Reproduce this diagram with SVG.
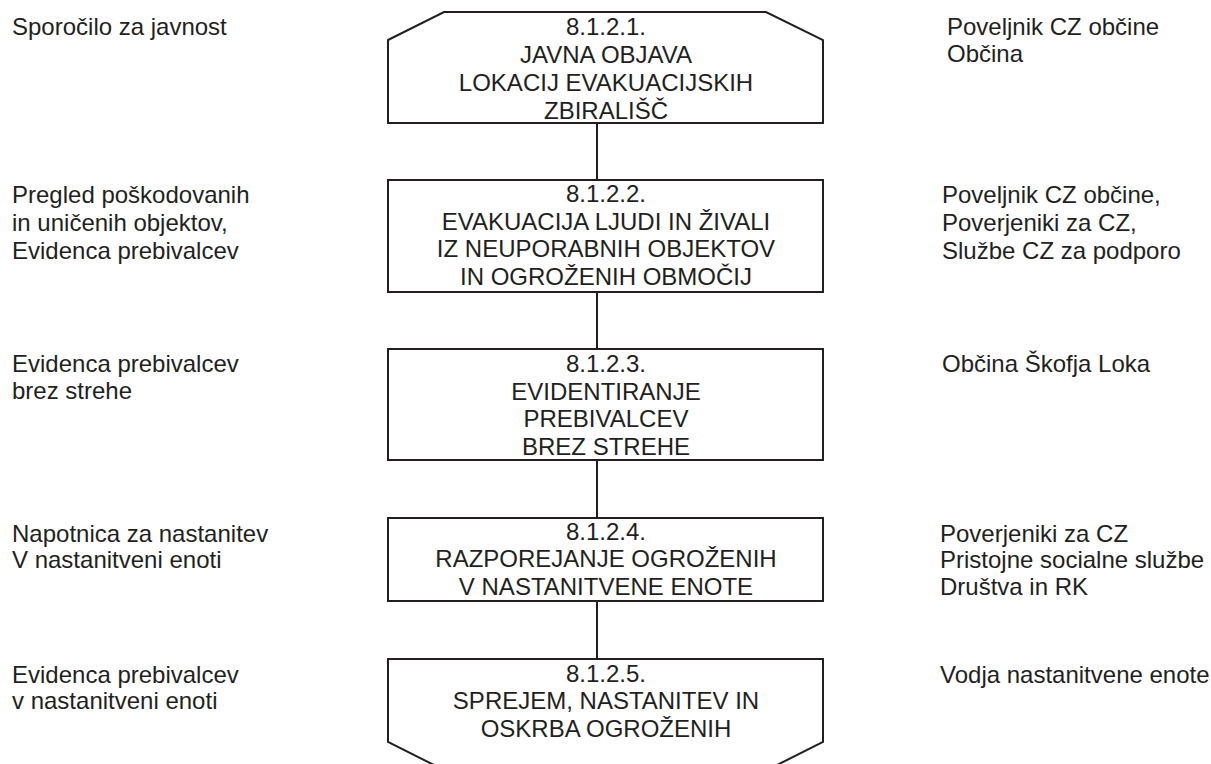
<svg xmlns="http://www.w3.org/2000/svg" width="1211" height="764" viewBox="0 0 1211 764">
<style>
.shape{fill:#fff;stroke:#231f20;stroke-width:2}
.conn{stroke:#231f20;stroke-width:2;fill:none}
.bt{font-family:"Liberation Sans",Arial,sans-serif;font-size:24px;fill:#231f20;text-anchor:middle}
.lt{font-family:"Liberation Sans",Arial,sans-serif;font-size:24px;fill:#231f20}
</style>
<rect width="1211" height="764" fill="#fff"/>
<g id="connectors">
<line class="conn" x1="597" y1="123" x2="597" y2="180"/>
<line class="conn" x1="597" y1="292" x2="597" y2="349"/>
<line class="conn" x1="597" y1="460" x2="597" y2="518"/>
<line class="conn" x1="597" y1="601" x2="597" y2="659"/>
</g>
<g id="n1">
<polygon class="shape" points="388,40 444,12 766,12 823,40 823,123 388,123"/>
<text class="bt" x="606" y="35">8.1.2.1.</text>
<text class="bt" x="606" y="63">JAVNA OBJAVA</text>
<text class="bt" x="606" y="91">LOKACIJ EVAKUACIJSKIH</text>
<text class="bt" x="606" y="119">ZBIRALIŠČ</text>
</g>
<g id="n2">
<rect class="shape" x="388" y="180" width="435" height="112"/>
<text class="bt" x="606" y="202">8.1.2.2.</text>
<text class="bt" x="606" y="230">EVAKUACIJA LJUDI IN ŽIVALI</text>
<text class="bt" x="606" y="257">IZ NEUPORABNIH OBJEKTOV</text>
<text class="bt" x="606" y="285">IN OGROŽENIH OBMOČIJ</text>
</g>
<g id="n3">
<rect class="shape" x="388" y="349" width="435" height="111"/>
<text class="bt" x="606" y="372">8.1.2.3.</text>
<text class="bt" x="606" y="400">EVIDENTIRANJE</text>
<text class="bt" x="606" y="427">PREBIVALCEV</text>
<text class="bt" x="606" y="455">BREZ STREHE</text>
</g>
<g id="n4">
<rect class="shape" x="388" y="518" width="435" height="83"/>
<text class="bt" x="606" y="540">8.1.2.4.</text>
<text class="bt" x="606" y="567">RAZPOREJANJE OGROŽENIH</text>
<text class="bt" x="606" y="595">V NASTANITVENE ENOTE</text>
</g>
<g id="n5">
<polygon class="shape" points="388,659 823,659 823,742 767,770 444,770 388,742"/>
<text class="bt" x="606" y="682">8.1.2.5.</text>
<text class="bt" x="606" y="709">SPREJEM, NASTANITEV IN</text>
<text class="bt" x="606" y="737">OSKRBA OGROŽENIH</text>
</g>
<g id="left-labels">
<text class="lt" x="12" y="35">Sporočilo za javnost</text>
<text class="lt" x="12" y="203">Pregled poškodovanih</text>
<text class="lt" x="12" y="231">in uničenih objektov,</text>
<text class="lt" x="12" y="259">Evidenca prebivalcev</text>
<text class="lt" x="12" y="372">Evidenca prebivalcev</text>
<text class="lt" x="12" y="399">brez strehe</text>
<text class="lt" x="12" y="542">Napotnica za nastanitev</text>
<text class="lt" x="12" y="568">V nastanitveni enoti</text>
<text class="lt" x="12" y="683">Evidenca prebivalcev</text>
<text class="lt" x="12" y="709">v nastanitveni enoti</text>
</g>
<g id="right-labels">
<text class="lt" x="947" y="35">Poveljnik CZ občine</text>
<text class="lt" x="947" y="62">Občina</text>
<text class="lt" x="942" y="203">Poveljnik CZ občine,</text>
<text class="lt" x="942" y="231">Poverjeniki za CZ,</text>
<text class="lt" x="942" y="259">Službe CZ za podporo</text>
<text class="lt" x="942" y="372">Občina Škofja Loka</text>
<text class="lt" x="940" y="542">Poverjeniki za CZ</text>
<text class="lt" x="940" y="568">Pristojne socialne službe</text>
<text class="lt" x="940" y="595">Društva in RK</text>
<text class="lt" x="940" y="683">Vodja nastanitvene enote</text>
</g>
</svg>
